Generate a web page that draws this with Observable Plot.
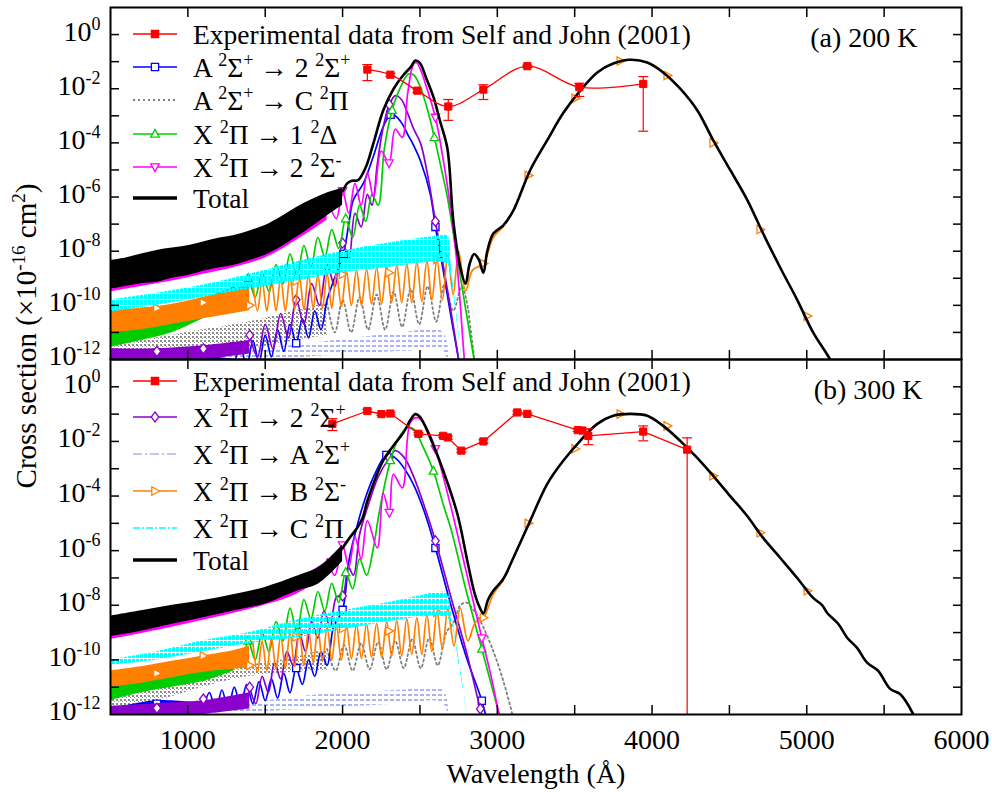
<!DOCTYPE html>
<html>
<head>
<meta charset="utf-8">
<script src="https://cdn.jsdelivr.net/npm/d3@7"></script>
<script src="https://cdn.jsdelivr.net/npm/@observablehq/plot@0.6"></script>
<style>
html,body{margin:0;padding:0;background:#fff;}
#chart{position:relative;width:992px;height:792px;overflow:hidden;background:#fff;}
#chart > svg{position:absolute;left:0;}
</style>
</head>
<body>
<div id="chart"></div>
<script>
// ---------------- axis ticks ----------------
const xTickAll = [1000, 1500, 2000, 2500, 3000, 3500, 4000, 4500, 5000, 5500];
const xLabelTicks = [1000, 2000, 3000, 4000, 5000, 6000];
const yDecades = [1e-11, 1e-10, 1e-9, 1e-8, 1e-7, 1e-6, 1e-5, 1e-4, 1e-3, 1e-2, 1e-1, 1e0];
const yLabelTicks = [1e0, 1e-2, 1e-4, 1e-6, 1e-8, 1e-10, 1e-12];

// ================= (a) 200 K =================
// Total (black): dense oscillation envelope + resolved curve
const tTotBandX  = [500, 600, 700, 800, 900, 1000, 1100, 1200, 1300, 1400, 1500, 1600, 1700, 1800, 1900, 2000];
const tTotBandHi = [4.5e-9, 5.6e-9, 7.9e-9, 1.07e-8, 1.3e-8, 1.6e-8, 2.2e-8, 3.0e-8, 3.8e-8, 5.6e-8, 8.9e-8, 1.8e-7, 4.0e-7, 7.9e-7, 1.4e-6, 2.1e-6];
const tTotBandLo = [4.0e-10, 5.0e-10, 6.3e-10, 7.1e-10, 1.0e-9, 1.26e-9, 1.8e-9, 2.4e-9, 3.0e-9, 4.5e-9, 7.1e-9, 1.4e-8, 3.2e-8, 7.9e-8, 2.0e-7, 5.0e-7];
const tTotX = [2000, 2030, 2060, 2100, 2150, 2200, 2263, 2330, 2393, 2440, 2470, 2500, 2540, 2587, 2630, 2677, 2716, 2761, 2795, 2820, 2850, 2880, 2910, 2935, 2974, 3039, 3104, 3213, 3323, 3426, 3536, 3646, 3749, 3859, 3969, 4072, 4182, 4292, 4395, 4505, 4615, 4718, 4828, 4938, 5041, 5151, 5220];
const tTotY = [1.6e-6, 3.2e-6, 4.0e-6, 4.2e-6, 1.26e-5, 1.0e-4, 1.6e-3, 1.0e-2, 3.2e-2, 6.3e-2, 0.11, 0.089, 0.025, 5.0e-3, 6.3e-4, 6.3e-5, 1.26e-7, 2.5e-9, 6.3e-10, 3.2e-9, 7.9e-9, 5.0e-9, 1.6e-9, 1.0e-8, 4.5e-8, 8.9e-8, 3.2e-7, 1.0e-5, 1.26e-4, 1.26e-3, 8.5e-3, 0.04, 0.085, 0.117, 0.093, 0.04, 0.01, 1.6e-3, 1.26e-4, 1.0e-5, 7.9e-7, 4.5e-8, 2.5e-9, 1.6e-10, 1.0e-11, 1.0e-12, 1.6e-13];

// X 2Pi -> 2 2Sigma- (magenta)
const tMagBandX  = [500, 700, 900, 1100, 1300, 1500, 1700, 1900];
const tMagBandHi = [3.5e-9, 6.3e-9, 1.05e-8, 1.8e-8, 3.0e-8, 7.1e-8, 3.2e-7, 1.1e-6];
const tMagBandLo = [3.2e-10, 5.0e-10, 7.9e-10, 1.4e-9, 2.5e-9, 5.6e-9, 2.5e-8, 1.4e-7];
const tMagX = [1900, 1960, 2000, 2040, 2080, 2120, 2160, 2200, 2250, 2300, 2340, 2386, 2420, 2457, 2476, 2500, 2540, 2600, 2650, 2700, 2740, 2780, 2800];
const tMagY = [1.0e-6, 1.6e-7, 1.7e-6, 2.5e-7, 3.2e-6, 5.0e-7, 7.9e-6, 1.0e-6, 5.0e-5, 1.8e-5, 3.2e-4, 1.6e-4, 6.3e-3, 0.079, 0.093, 0.056, 0.0126, 8.7e-4, 2.5e-5, 3.2e-7, 3.2e-9, 3.2e-12, 1.0e-13];
const tMagMX = [2000, 2300, 2600];
const tMagMY = [1.7e-6, 1.8e-5, 8.7e-4];

// A 2Sigma+ -> 2 2Sigma+ (blue)
const tBluBandX  = [500, 800, 1100, 1300];
const tBluBandHi = [5.0e-13, 7.9e-13, 1.26e-12, 1.0e-12];
const tBluBandLo = [1.0e-13, 1.6e-13, 3.2e-13, 3.2e-13];
const tBluX = [1300, 1340, 1380, 1420, 1460, 1500, 1540, 1580, 1620, 1660, 1700, 1740, 1780, 1820, 1860, 1900, 1941, 2005, 2040, 2070, 2134, 2199, 2263, 2310, 2340, 2380, 2418, 2460, 2503, 2567, 2600, 2650, 2700, 2750, 2780];
const tBluY = [6.3e-13, 3.2e-12, 5.0e-13, 5.0e-12, 7.9e-13, 7.9e-12, 1.26e-12, 1.26e-11, 2.0e-12, 2.0e-11, 4.0e-12, 3.2e-11, 6.3e-12, 6.3e-11, 1.26e-11, 1.6e-10, 7.9e-10, 7.9e-9, 1.0e-7, 7.9e-7, 3.2e-6, 3.2e-5, 4.0e-4, 1.1e-3, 1.0e-3, 5.6e-4, 2.2e-4, 7.9e-5, 2.2e-5, 1.26e-6, 7.9e-8, 2.0e-9, 4.0e-11, 1.0e-12, 1.0e-13];
const tBluMX = [1700, 2005, 2310, 2600];
const tBluMY = [4.0e-12, 7.9e-9, 1.1e-3, 7.9e-8];

// X 2Pi -> 2 2Sigma+ (purple)
const tPurBandX  = [500, 800, 1100, 1400];
const tPurBandHi = [2.5e-12, 2.5e-12, 3.2e-12, 5.0e-12];
const tPurBandLo = [6.3e-13, 7.9e-13, 1.0e-12, 1.6e-12];
const tPurX = [1400, 1450, 1500, 1550, 1600, 1650, 1700, 1750, 1800, 1850, 1900, 1950, 2000, 2040, 2080, 2120, 2160, 2190, 2224, 2260, 2302, 2341, 2380, 2420, 2460, 2503, 2550, 2600, 2650, 2700, 2750, 2780];
const tPurY = [7.9e-12, 1.26e-12, 2.0e-11, 2.5e-12, 5.0e-11, 6.3e-12, 1.6e-10, 2.0e-11, 6.3e-10, 1.0e-10, 3.2e-9, 5.0e-10, 2.0e-8, 5.0e-9, 2.5e-7, 7.9e-8, 1.26e-6, 5.0e-7, 1.6e-5, 3.2e-4, 2.6e-3, 5.6e-3, 4.0e-3, 1.26e-3, 3.2e-4, 1.0e-4, 6.3e-6, 1.26e-7, 3.2e-9, 6.3e-11, 1.0e-12, 1.0e-13];
const tPurMX = [800, 1100, 1400, 1700, 2000, 2302, 2600];
const tPurMY = [2.0e-12, 2.5e-12, 7.9e-12, 1.6e-10, 2.0e-8, 2.6e-3, 1.26e-7];

// X 2Pi -> 1 2Delta (green)
const tGreBandX  = [500, 700, 900, 1100, 1300];
const tGreBandHi = [1.0e-11, 2.0e-11, 5.0e-11, 1.6e-10, 5.0e-10];
const tGreBandLo = [2.8e-12, 5.0e-12, 1.0e-11, 3.2e-11, 1.0e-10];
const tGreX = [1300, 1345, 1390, 1435, 1480, 1525, 1570, 1615, 1660, 1705, 1750, 1795, 1840, 1885, 1930, 1975, 2020, 2065, 2110, 2150, 2190, 2230, 2270, 2320, 2373, 2425, 2460, 2500, 2550, 2593, 2640, 2677, 2720, 2780, 2850, 2880];
const tGreY = [5.0e-10, 1.0e-10, 1.0e-9, 2.0e-10, 1.6e-9, 3.2e-10, 3.2e-9, 6.3e-10, 7.9e-9, 1.26e-9, 1.6e-8, 2.5e-9, 3.2e-8, 6.3e-9, 6.3e-8, 1.26e-8, 1.6e-7, 3.2e-8, 5.0e-7, 1.26e-7, 1.26e-6, 5.0e-7, 6.3e-5, 1.6e-3, 1.1e-2, 3.5e-2, 3.2e-2, 1.26e-2, 1.6e-3, 1.6e-4, 1.0e-5, 1.0e-6, 3.2e-8, 2.5e-10, 1.0e-12, 1.0e-13];
const tGreMX = [1390, 1705, 2020, 2320, 2593];
const tGreMY = [1.0e-9, 1.26e-9, 1.6e-7, 1.6e-3, 1.6e-4];

// X 2Pi -> B 2Sigma- (orange); its long-wave hump lies under the total curve (markers only there)
const tOraBandX  = [500, 700, 900, 1100, 1300, 1400];
const tOraBandHi = [6.3e-11, 7.9e-11, 1.1e-10, 2.0e-10, 4.0e-10, 6.3e-10];
const tOraBandLo = [1.0e-11, 1.26e-11, 2.0e-11, 3.2e-11, 5.0e-11, 6.3e-11];
const tOraX = [1420, 1450, 1480, 1510, 1540, 1570, 1600, 1630, 1660, 1690, 1720, 1750, 1780, 1810, 1840, 1870, 1900, 1930, 1960, 1992, 2025, 2057, 2090, 2122, 2155, 2187, 2220, 2252, 2285, 2317, 2350, 2382, 2415, 2447, 2480, 2512, 2545, 2577, 2610, 2645, 2680, 2715, 2750, 2795, 2840, 2910, 2974, 3039];
const tOraY = [7.1e-10, 6.3e-11, 7.9e-10, 6.3e-11, 8.9e-10, 6.3e-11, 1.0e-9, 6.3e-11, 1.12e-9, 7.1e-11, 1.26e-9, 7.1e-11, 1.4e-9, 7.9e-11, 1.4e-9, 7.9e-11, 1.6e-9, 7.9e-11, 1.6e-9, 8.9e-11, 1.8e-9, 1.0e-10, 2.0e-9, 1.0e-10, 2.2e-9, 1.12e-10, 2.5e-9, 1.12e-10, 2.8e-9, 1.26e-10, 3.2e-9, 1.26e-10, 3.5e-9, 1.26e-10, 4.0e-9, 1.4e-10, 4.5e-9, 1.6e-10, 5.0e-9, 1.6e-10, 7.1e-9, 2.5e-10, 1.0e-8, 3.5e-10, 2.0e-9, 3.5e-9, 3.2e-8, 8.0e-8];
const tOraMX = [800, 1100, 1400, 1700, 2000, 2300, 2610, 2910, 3200, 3503, 3795, 4098, 4395, 4699, 5003];
const tOraMY = [7.9e-11, 1.26e-10, 1.0e-10, 7.9e-10, 1.4e-9, 1.6e-9, 5.0e-9, 3.5e-9, 6.3e-6, 4.4e-3, 0.105, 0.031, 1.0e-4, 6.3e-8, 4.0e-11];

// X 2Pi -> C 2Pi (cyan)
const tCyaX  = [500, 800, 1100, 1400, 1700, 2000, 2300, 2600, 2680, 2700, 2740, 2780];
const tCyaHi = [1.6e-10, 2.8e-10, 5.6e-10, 1.4e-9, 4.0e-9, 1.0e-8, 2.0e-8, 3.5e-8, 3.5e-8, 4.0e-9, 4.0e-11, 3.2e-13];
const tCyaLo = [5.6e-11, 1.0e-10, 2.0e-10, 4.0e-10, 7.9e-10, 1.6e-9, 2.5e-9, 4.0e-9, 3.2e-9, 1.26e-9, 2.5e-11, 3.2e-13];

// A 2Sigma+ -> C 2Pi (gray dotted)
const tGryBandX  = [500, 800, 1100, 1400, 1700, 1900];
const tGryBandHi = [3.2e-12, 6.3e-12, 1.26e-11, 2.5e-11, 6.3e-11, 1.26e-10];
const tGryBandLo = [6.3e-13, 1.0e-12, 1.6e-12, 2.5e-12, 5.0e-12, 7.9e-12];
const tGryX = [1900, 1950, 2000, 2055, 2110, 2165, 2220, 2275, 2330, 2385, 2440, 2495, 2550, 2605, 2660, 2715, 2770, 2800, 2830, 2860, 2880];
const tGryY = [1.26e-10, 1.0e-11, 1.6e-10, 1.0e-11, 2.0e-10, 1.26e-11, 2.5e-10, 1.26e-11, 3.2e-10, 1.6e-11, 4.0e-10, 2.0e-11, 5.0e-10, 2.5e-11, 6.3e-10, 6.3e-11, 5.0e-10, 1.6e-10, 1.0e-11, 5.0e-13, 1.0e-13];

// X 2Pi -> A 2Sigma+ (light blue)
const tLbX  = [600, 900, 1200, 1500, 1800, 2100, 2400, 2650, 2690];
const tLbHi = [5.0e-13, 1.0e-12, 1.6e-12, 2.5e-12, 4.0e-12, 6.3e-12, 1.0e-11, 1.0e-11, 3.2e-13];
const tLbLo = [1.0e-13, 2.5e-13, 5.0e-13, 7.9e-13, 1.26e-12, 1.6e-12, 2.0e-12, 2.0e-12, 1.6e-13];

// Experimental, Self and John (2001), 200 K
const tExpX  = [2160, 2309, 2483, 2683, 2910, 3194, 3530, 3943];
const tExpY  = [0.051, 0.033, 8.5e-3, 2.2e-3, 9.3e-3, 0.068, 0.0114, 0.015];
const tExpLo = [0.02, 0.029, 7.3e-3, 6.8e-4, 4.0e-3, 0.062, 5.2e-3, 2.7e-4];
const tExpHi = [0.078, 0.037, 9.8e-3, 4.0e-3, 0.014, 0.074, 0.016, 0.028];

// ================= (b) 300 K =================
const bTotBandX  = [500, 700, 900, 1100, 1300, 1500, 1700, 1850, 2000];
const bTotBandHi = [4.0e-9, 6.3e-9, 1.0e-8, 1.5e-8, 2.5e-8, 4.5e-8, 1.12e-7, 2.5e-7, 1.6e-6];
const bTotBandLo = [7.1e-10, 1.12e-9, 2.0e-9, 3.5e-9, 6.3e-9, 1.12e-8, 3.2e-8, 6.3e-8, 4.0e-7];
const bTotX = [2000, 2050, 2095, 2130, 2160, 2263, 2328, 2393, 2440, 2470, 2500, 2567, 2651, 2742, 2806, 2850, 2880, 2910, 2940, 2974, 3039, 3104, 3213, 3323, 3426, 3536, 3646, 3749, 3859, 3969, 4072, 4182, 4292, 4395, 4505, 4615, 4718, 4828, 4938, 5041, 5100, 5132, 5203, 5261, 5325, 5390, 5461, 5539, 5603, 5687, 5730];
const bTotY = [1.26e-6, 3.2e-6, 6.9e-6, 1.6e-5, 6.6e-5, 2.0e-3, 6.9e-3, 0.021, 0.063, 0.1, 0.079, 0.0135, 8.3e-4, 2.2e-5, 4.3e-7, 3.2e-8, 1.0e-8, 5.0e-9, 1.6e-8, 3.4e-8, 9.3e-8, 5.5e-7, 1.26e-5, 2.8e-4, 1.95e-3, 0.0105, 0.044, 0.087, 0.102, 0.087, 0.037, 0.0105, 2.5e-3, 5.5e-4, 1.0e-4, 1.86e-5, 2.95e-6, 5.5e-7, 1.0e-7, 1.86e-8, 1.0e-8, 5.2e-9, 2.1e-9, 6.5e-10, 2.75e-10, 7.9e-11, 4.0e-11, 8.7e-12, 5.6e-12, 1.05e-12, 2.5e-13];

const bMagBandX  = [500, 800, 1100, 1400, 1700, 1900];
const bMagBandHi = [3.2e-9, 6.3e-9, 1.26e-8, 2.5e-8, 8.9e-8, 4.0e-7];
const bMagBandLo = [5.6e-10, 1.2e-9, 2.8e-9, 7.1e-9, 2.5e-8, 1.2e-7];
const bMagX = [1900, 1950, 2000, 2040, 2080, 2120, 2160, 2224, 2263, 2302, 2328, 2386, 2438, 2483, 2520, 2560, 2600, 2700, 2800, 2900, 2960, 3000, 3030];
const bMagY = [5.0e-7, 1.26e-7, 1.6e-6, 2.5e-7, 3.2e-6, 5.0e-7, 1.26e-5, 1.26e-6, 1.26e-4, 2.5e-5, 6.3e-4, 2.0e-4, 0.05, 0.074, 0.05, 0.02, 5.4e-3, 4.0e-5, 1.6e-7, 6.3e-10, 2.5e-11, 2.0e-12, 3.2e-13];
const bMagMX = [2000, 2302, 2600, 2900];
const bMagMY = [1.6e-6, 2.5e-5, 5.4e-3, 6.3e-10];

const bGreBandX  = [500, 700, 900, 1100, 1300];
const bGreBandHi = [1.0e-11, 2.0e-11, 3.2e-11, 6.3e-11, 2.0e-10];
const bGreBandLo = [3.2e-12, 6.3e-12, 1.0e-11, 1.6e-11, 4.0e-11];
const bGreX = [1300, 1345, 1390, 1435, 1480, 1525, 1570, 1615, 1660, 1705, 1750, 1795, 1840, 1885, 1930, 1975, 2020, 2065, 2110, 2155, 2199, 2240, 2309, 2360, 2418, 2460, 2520, 2587, 2650, 2700, 2800, 2900, 2980, 3030];
const bGreY = [2.0e-10, 5.0e-11, 5.0e-10, 1.0e-10, 1.0e-9, 2.0e-10, 2.5e-9, 5.0e-10, 7.9e-9, 1.0e-9, 1.6e-8, 3.2e-9, 3.2e-8, 6.3e-9, 6.3e-8, 1.26e-8, 1.6e-7, 4.0e-8, 5.0e-7, 1.26e-7, 1.26e-6, 3.2e-5, 2.0e-3, 0.0126, 0.032, 0.028, 6.3e-3, 8.3e-4, 5.0e-5, 6.3e-6, 3.2e-8, 2.5e-10, 5.0e-12, 4.0e-13];
const bGreMX = [1390, 1705, 2020, 2309, 2587, 2900];
const bGreMY = [5.0e-10, 1.0e-9, 1.6e-7, 2.0e-3, 8.3e-4, 2.5e-10];

const bPurBandX  = [500, 800, 1100, 1400];
const bPurBandHi = [2.0e-12, 2.5e-12, 3.2e-12, 6.3e-12];
const bPurBandLo = [5.0e-13, 6.3e-13, 1.0e-12, 1.6e-12];
const bPurX = [1400, 1440, 1480, 1520, 1560, 1600, 1640, 1680, 1720, 1760, 1800, 1840, 1880, 1920, 1960, 2000, 2037, 2070, 2110, 2160, 2230, 2302, 2341, 2400, 2460, 2530, 2600, 2700, 2800, 2890, 2930];
const bPurY = [1.0e-11, 2.5e-12, 2.5e-11, 6.3e-12, 7.9e-11, 2.0e-11, 2.0e-10, 6.3e-11, 1.0e-9, 2.0e-10, 2.5e-9, 6.3e-10, 6.3e-9, 1.6e-9, 2.0e-8, 2.2e-8, 2.5e-7, 1.26e-7, 4.0e-6, 3.7e-5, 5.0e-4, 2.5e-3, 4.6e-3, 2.5e-3, 5.0e-4, 4.0e-5, 2.3e-6, 2.0e-8, 2.0e-10, 1.6e-12, 2.5e-13];
const bPurMX = [800, 1100, 1400, 1720, 2000, 2302, 2600, 2890];
const bPurMY = [1.7e-12, 3.7e-12, 1.0e-11, 1.0e-9, 2.2e-8, 2.5e-3, 2.3e-6, 1.6e-12];

const bBluBandX  = [500, 800, 1100];
const bBluBandHi = [1.6e-12, 3.2e-12, 2.5e-12];
const bBluBandLo = [5.0e-13, 7.9e-13, 1.0e-12];
const bBluX = [1100, 1140, 1180, 1220, 1260, 1300, 1340, 1380, 1420, 1460, 1500, 1540, 1580, 1620, 1660, 1700, 1740, 1780, 1820, 1860, 1900, 1941, 2000, 2040, 2080, 2134, 2200, 2283, 2340, 2400, 2460, 2530, 2600, 2700, 2800, 2900, 2940];
const bBluY = [1.6e-12, 6.3e-12, 1.26e-12, 7.9e-12, 1.6e-12, 1.0e-11, 2.0e-12, 1.26e-11, 2.5e-12, 1.6e-11, 3.2e-12, 2.0e-11, 4.0e-12, 3.2e-11, 6.3e-12, 5.0e-11, 1.26e-11, 1.0e-10, 2.5e-11, 2.0e-10, 6.3e-11, 1.6e-9, 6.8e-9, 4.0e-7, 4.0e-6, 5.0e-5, 5.0e-4, 3.2e-3, 2.5e-3, 1.0e-3, 2.5e-4, 2.5e-5, 1.26e-6, 1.0e-8, 1.26e-10, 3.2e-12, 4.0e-13];
const bBluMX = [800, 1700, 2000, 2283, 2600, 2900];
const bBluMY = [2.5e-12, 5.0e-11, 6.8e-9, 3.2e-3, 1.26e-6, 3.2e-12];

const bOraBandX  = [500, 700, 900, 1100, 1300, 1400];
const bOraBandHi = [4.0e-11, 5.6e-11, 8.9e-11, 1.4e-10, 2.2e-10, 3.2e-10];
const bOraBandLo = [1.0e-11, 1.4e-11, 2.2e-11, 3.5e-11, 4.5e-11, 5.0e-11];
const bOraX = [1420, 1450, 1480, 1510, 1540, 1570, 1600, 1630, 1660, 1690, 1720, 1750, 1780, 1810, 1840, 1870, 1900, 1930, 1960, 1992, 2025, 2057, 2090, 2122, 2155, 2187, 2220, 2252, 2285, 2317, 2350, 2382, 2415, 2447, 2480, 2512, 2545, 2577, 2610, 2645, 2680, 2720, 2760, 2810, 2860, 2910, 2974, 3039];
const bOraY = [4.5e-10, 3.5e-11, 5.0e-10, 4.0e-11, 6.3e-10, 4.5e-11, 7.9e-10, 5.0e-11, 1.0e-9, 5.6e-11, 1.12e-9, 6.3e-11, 1.26e-9, 7.9e-11, 1.4e-9, 8.9e-11, 1.6e-9, 1.0e-10, 1.8e-9, 1.0e-10, 1.8e-9, 1.12e-10, 2.0e-9, 1.12e-10, 2.0e-9, 1.26e-10, 2.2e-9, 1.26e-10, 2.5e-9, 1.4e-10, 2.8e-9, 1.4e-10, 3.2e-9, 1.6e-10, 3.5e-9, 1.6e-10, 4.5e-9, 2.0e-10, 5.6e-9, 2.5e-10, 7.1e-9, 3.2e-10, 7.9e-9, 5.0e-10, 2.5e-9, 3.5e-9, 2.5e-8, 7.9e-8];
const bOraMX = [800, 1100, 1400, 1700, 2000, 2300, 2610, 2910, 3200, 3503, 3795, 4098, 4395, 4699, 5003];
const bOraMY = [3.2e-11, 1.4e-10, 6.3e-11, 6.9e-10, 1.4e-9, 1.15e-9, 5.6e-9, 3.5e-9, 1.0e-5, 5.4e-3, 0.1, 0.037, 5.5e-4, 4.5e-6, 3.4e-8];

const bCyaX  = [500, 800, 1100, 1400, 1700, 2000, 2300, 2600, 2677, 2700, 2760, 2815];
const bCyaHi = [1.0e-10, 2.0e-10, 5.0e-10, 1.0e-9, 2.8e-9, 6.3e-9, 1.26e-8, 2.8e-8, 2.8e-8, 6.3e-9, 6.3e-11, 4.0e-13];
const bCyaLo = [6.3e-11, 1.0e-10, 2.0e-10, 4.0e-10, 6.3e-10, 1.26e-9, 2.5e-9, 4.0e-9, 3.2e-9, 2.5e-9, 4.0e-11, 4.0e-13];

const bGryBandX  = [500, 800, 1100, 1400, 1700, 1900];
const bGryBandHi = [5.6e-12, 1.26e-11, 3.2e-11, 6.3e-11, 1.26e-10, 2.5e-10];
const bGryBandLo = [1.6e-12, 3.2e-12, 1.0e-11, 2.5e-11, 3.5e-11, 4.0e-11];
const bGryX = [1900, 1955, 2010, 2065, 2120, 2175, 2230, 2285, 2340, 2395, 2450, 2505, 2560, 2615, 2670, 2720, 2761, 2800, 2850, 2890, 2974, 3040, 3097, 3120];
const bGryY = [2.5e-10, 4.0e-11, 3.5e-10, 4.0e-11, 4.0e-10, 4.5e-11, 4.5e-10, 4.5e-11, 5.0e-10, 5.0e-11, 5.6e-10, 5.0e-11, 6.3e-10, 6.3e-11, 1.0e-9, 2.5e-9, 1.0e-8, 1.26e-8, 6.3e-9, 2.7e-9, 2.1e-10, 1.6e-11, 1.0e-12, 2.5e-13];

const bLbX  = [600, 900, 1200, 1500, 1800, 2100, 2400, 2650, 2690];
const bLbHi = [6.3e-13, 1.26e-12, 2.0e-12, 3.2e-12, 5.0e-12, 6.3e-12, 7.9e-12, 7.9e-12, 3.2e-13];
const bLbLo = [1.6e-13, 4.0e-13, 7.9e-13, 1.26e-12, 1.6e-12, 2.0e-12, 2.5e-12, 2.5e-12, 1.6e-13];

const bExpX  = [1934, 2160, 2251, 2309, 2490, 2650, 2680, 2767, 2910, 3129, 3194, 3520, 3550, 3588, 3943, 4227];
const bExpY  = [0.044, 0.13, 0.1, 0.105, 0.019, 0.016, 0.014, 4.6e-3, 0.01, 0.115, 0.102, 0.026, 0.025, 0.016, 0.023, 5.0e-3];
const bExpLo = [0.025, 0.115, 0.09, 0.095, 0.017, 0.014, 0.012, 4.0e-3, 8.7e-3, 0.1, 0.095, 0.023, 0.022, 7.6e-3, 0.0105, 1e-14];
const bExpHi = [0.068, 0.15, 0.11, 0.115, 0.021, 0.018, 0.016, 5.2e-3, 0.0115, 0.13, 0.11, 0.029, 0.028, 0.029, 0.037, 0.0135];

// legend labels (^x or ^{..} = superscript)
const tLegendLabels = ["Experimental data from Self and John (2001)", "A ^2Σ^+ → 2 ^2Σ^+", "A ^2Σ^+ → C ^2Π", "X ^2Π → 1 ^2Δ", "X ^2Π → 2 ^2Σ^-", "Total"];
const bLegendLabels = ["Experimental data from Self and John (2001)", "X ^2Π → 2 ^2Σ^+", "X ^2Π → A ^2Σ^+", "X ^2Π → B ^2Σ^-", "X ^2Π → C ^2Π", "Total"];

// ---------------- helpers ----------------
const toPts = (xs, ys) => xs.map((x, i) => ({x, y: ys[i]}));
const toBand = (xs, lo, hi) => xs.map((x, i) => ({x, lo: lo[i], hi: hi[i]}));
const toErr = (xs, ys, lo, hi) => xs.map((x, i) => ({x, y: ys[i], lo: lo[i], hi: hi[i]}));

const mk = f => ({draw(ctx, size) { f(ctx, Math.sqrt(size / Math.PI)); }});
const symSquare = mk((c, r) => { const s = r * 0.9; c.moveTo(-s, -s); c.lineTo(s, -s); c.lineTo(s, s); c.lineTo(-s, s); c.closePath(); });
const symDiamond = mk((c, r) => { c.moveTo(0, -r * 1.25); c.lineTo(r * 0.95, 0); c.lineTo(0, r * 1.25); c.lineTo(-r * 0.95, 0); c.closePath(); });
const symTriUp = mk((c, r) => { c.moveTo(0, -r * 1.15); c.lineTo(r * 1.05, r * 0.8); c.lineTo(-r * 1.05, r * 0.8); c.closePath(); });
const symTriDown = mk((c, r) => { c.moveTo(0, r * 1.15); c.lineTo(r * 1.05, -r * 0.8); c.lineTo(-r * 1.05, -r * 0.8); c.closePath(); });
const symTriRight = mk((c, r) => { c.moveTo(r * 1.15, 0); c.lineTo(-r * 0.8, -r * 1.05); c.lineTo(-r * 0.8, r * 1.05); c.closePath(); });
const symCap = mk((c, r) => { c.moveTo(-r, 0); c.lineTo(r, 0); });

const STY = {
  exp:  {color: "#ff0000", sym: symSquare, fill: "#ff0000", width: 1.3},
  a2s:  {color: "#0000ff", sym: symSquare, fill: "#ffffff", width: 1.7},
  ac:   {color: "#808080", dash: "2,3", width: 1.8, bandFill: "url(#patGray)"},
  x1d:  {color: "#00cc00", sym: symTriUp, fill: "#ffffff", width: 1.7},
  x2sm: {color: "#ff00ff", sym: symTriDown, fill: "#ffffff", width: 1.7},
  x2sp: {color: "#8c00cc", sym: symDiamond, fill: "#ffffff", width: 1.7},
  xa:   {color: "#aab4f5", dash: "9,3,2,3", width: 1.7, bandFill: "url(#patLb)"},
  xb:   {color: "#ff8000", sym: symTriRight, fill: "#ffffff", width: 1.7},
  xc:   {color: "#00ffff", dash: "7,2,2,2", width: 1.7, bandFill: "url(#patCyan)"},
  tot:  {color: "#000000", width: 2.6}
};
const FONT = "'Liberation Serif', 'Times New Roman', serif";
const FS = 28, SUP = 18, SHIFT = 11;

function richText(sel, str, supSize, supShift) {
  const parts = [];
  let i = 0, buf = "";
  while (i < str.length) {
    if (str[i] === "^") {
      if (buf) { parts.push({t: buf, sup: false}); buf = ""; }
      if (str[i + 1] === "{") { const j = str.indexOf("}", i); parts.push({t: str.slice(i + 2, j), sup: true}); i = j + 1; }
      else { parts.push({t: str[i + 1], sup: true}); i += 2; }
    } else { buf += str[i]; i++; }
  }
  if (buf) parts.push({t: buf, sup: false});
  let cur = 0;
  for (const p of parts) {
    const ts = sel.append("tspan").text(p.t);
    if (p.sup) { ts.attr("font-size", supSize).attr("dy", -supShift - cur); cur = -supShift; }
    else if (cur !== 0) { ts.attr("dy", -cur); cur = 0; }
  }
}

function addSeries(marks, s, st) {
  if (s.band) marks.push(Plot.areaY(s.band, {x: "x", y1: "lo", y2: "hi", fill: st.bandFill || st.color, curve: "catmull-rom", clip: true}));
  if (s.line) marks.push(Plot.line(s.line, {x: "x", y: "y", stroke: st.color, strokeWidth: st.width, strokeDasharray: st.dash, curve: "catmull-rom", clip: true}));
  if (s.marks && st.sym) marks.push(Plot.dot(s.marks, {x: "x", y: "y", symbol: st.sym, r: 4, stroke: st.color, fill: st.fill, strokeWidth: 1.3, clip: true}));
}

const drawOrder = ["xa", "ac", "a2s", "x2sp", "x1d", "xb", "xc", "x2sm", "tot"];

function makePanel(cfg) {
  const marks = [];
  for (const k of drawOrder) if (cfg.series[k]) addSeries(marks, cfg.series[k], STY[k]);
  const red = STY.exp.color;
  marks.push(Plot.line(cfg.exp, {x: "x", y: "y", stroke: red, strokeWidth: 1.3, curve: cfg.expCurve, clip: true}));
  marks.push(Plot.ruleX(cfg.exp, {x: "x", y1: "lo", y2: "hi", stroke: red, strokeWidth: 1.2, clip: true}));
  marks.push(Plot.dot(cfg.exp, {x: "x", y: "lo", symbol: symCap, r: 5, stroke: red, fill: "none", strokeWidth: 1.2, clip: true}));
  marks.push(Plot.dot(cfg.exp, {x: "x", y: "hi", symbol: symCap, r: 5, stroke: red, fill: "none", strokeWidth: 1.2, clip: true}));
  marks.push(Plot.dot(cfg.exp, {x: "x", y: "y", symbol: symSquare, r: 4, fill: red, stroke: red, strokeWidth: 1}));
  marks.push(Plot.frame({stroke: "#000", strokeWidth: 2}));
  marks.push(Plot.axisY(yDecades, {anchor: "left", tickSize: -9, tickFormat: () => "", strokeWidth: 1.5, label: null}));
  marks.push(Plot.axisY(yDecades, {anchor: "right", tickSize: -9, tickFormat: () => "", strokeWidth: 1.5, label: null}));
  marks.push(Plot.axisX(xTickAll, {anchor: "top", tickSize: -9, tickFormat: () => "", strokeWidth: 1.5, label: null}));
  marks.push(Plot.axisX(xTickAll, {anchor: "bottom", tickSize: -9, tickFormat: () => "", strokeWidth: 1.5, label: null}));
  marks.push(Plot.axisY(yLabelTicks, {anchor: "left", tickSize: 0, tickPadding: 10, tickFormat: d => "10^" + Math.round(Math.log10(d)), label: null, dy: -3}));
  if (cfg.xLabels) marks.push(Plot.axisX(xLabelTicks, {anchor: "bottom", tickSize: 0, tickPadding: 15, tickFormat: d => String(d), label: null}));
  marks.push(Plot.text([cfg.tag], {frameAnchor: "top-right", dx: cfg.tagDx, dy: 31, textAnchor: "end", lineAnchor: "middle", fontSize: FS}));
  const svg = Plot.plot({
    width: 992, height: cfg.height,
    marginTop: cfg.mt, marginBottom: cfg.mb, marginLeft: 110, marginRight: 31,
    x: {type: "linear", domain: [500, 6000], label: null},
    y: {type: "log", domain: [1e-12, 10], label: null},
    style: {fontFamily: FONT, fontSize: FS + "px", background: "transparent", overflow: "visible", color: "#000"},
    marks
  });
  d3.select(svg).selectAll("text").each(function () {
    const m = /^10\^(-?\d+)$/.exec(this.textContent);
    if (m) { const s = d3.select(this); s.text(""); richText(s, "10^{" + m[1] + "}", SUP, SHIFT); }
  });
  const g = d3.select(svg).append("g").attr("font-family", FONT).attr("font-size", 27.5).attr("fill", "#000").attr("text-anchor", "start");
  cfg.legendKeys.forEach((k, i) => {
    const st = STY[k], y = cfg.legendRows[i];
    g.append("line").attr("x1", 133).attr("x2", 177).attr("y1", y).attr("y2", y)
      .attr("stroke", st.color).attr("stroke-width", k === "tot" ? 3.5 : st.width)
      .attr("stroke-dasharray", st.dash || null);
    if (st.sym) g.append("path").attr("d", d3.symbol(st.sym, Math.PI * 16)()).attr("transform", `translate(155,${y})`)
      .attr("fill", st.fill).attr("stroke", st.color).attr("stroke-width", 1.3);
    const t = g.append("text").attr("x", 193).attr("y", y + 10).attr("text-anchor", "start");
    richText(t, cfg.legendLabels[i], SUP, SHIFT);
  });
  return svg;
}

const chart = document.getElementById("chart");
// fill patterns mimicking dense dashed / dotted oscillations
const defsSvg = d3.select(chart).append("svg").attr("width", 0).attr("height", 0).style("top", "0px");
const defs = defsSvg.append("defs");
function pattern(id, w, h, color, rects) {
  const p = defs.append("pattern").attr("id", id).attr("patternUnits", "userSpaceOnUse").attr("width", w).attr("height", h);
  rects.forEach(r => p.append("rect").attr("x", r[0]).attr("y", r[1]).attr("width", r[2]).attr("height", r[3]).attr("fill", color));
}
pattern("patCyan", 4, 6, "#00ffff", [[0, 0, 3, 5]]);
pattern("patGray", 4, 4, "#8c8c8c", [[0, 0, 2, 2], [2, 2, 1, 1]]);
pattern("patLb", 6, 5, "#aab4f5", [[0, 0, 4, 2]]);

const topCfg = {
  height: 360, mt: 7, mb: 1, xLabels: false, tag: "(a) 200 K", tagDx: -44,
  series: {
    tot: {band: toBand(tTotBandX, tTotBandLo, tTotBandHi), line: toPts(tTotX, tTotY)},
    x2sm: {band: toBand(tMagBandX, tMagBandLo, tMagBandHi), line: toPts(tMagX, tMagY), marks: toPts(tMagMX, tMagMY)},
    a2s: {band: toBand(tBluBandX, tBluBandLo, tBluBandHi), line: toPts(tBluX, tBluY), marks: toPts(tBluMX, tBluMY)},
    x2sp: {band: toBand(tPurBandX, tPurBandLo, tPurBandHi), line: toPts(tPurX, tPurY), marks: toPts(tPurMX, tPurMY)},
    x1d: {band: toBand(tGreBandX, tGreBandLo, tGreBandHi), line: toPts(tGreX, tGreY), marks: toPts(tGreMX, tGreMY)},
    xb: {band: toBand(tOraBandX, tOraBandLo, tOraBandHi), line: toPts(tOraX, tOraY), marks: toPts(tOraMX, tOraMY)},
    xc: {band: toBand(tCyaX, tCyaLo, tCyaHi)},
    ac: {band: toBand(tGryBandX, tGryBandLo, tGryBandHi), line: toPts(tGryX, tGryY)},
    xa: {band: toBand(tLbX, tLbLo, tLbHi)}
  },
  exp: toErr(tExpX, tExpY, tExpLo, tExpHi), expCurve: "catmull-rom",
  legendKeys: ["exp", "a2s", "ac", "x1d", "x2sm", "tot"], legendLabels: tLegendLabels,
  legendRows: [34, 67, 100, 134, 167, 198]
};
const botCfg = {
  height: 433, mt: 0, mb: 78, xLabels: true, tag: "(b) 300 K", tagDx: -39,
  series: {
    tot: {band: toBand(bTotBandX, bTotBandLo, bTotBandHi), line: toPts(bTotX, bTotY)},
    x2sm: {band: toBand(bMagBandX, bMagBandLo, bMagBandHi), line: toPts(bMagX, bMagY), marks: toPts(bMagMX, bMagMY)},
    a2s: {band: toBand(bBluBandX, bBluBandLo, bBluBandHi), line: toPts(bBluX, bBluY), marks: toPts(bBluMX, bBluMY)},
    x2sp: {band: toBand(bPurBandX, bPurBandLo, bPurBandHi), line: toPts(bPurX, bPurY), marks: toPts(bPurMX, bPurMY)},
    x1d: {band: toBand(bGreBandX, bGreBandLo, bGreBandHi), line: toPts(bGreX, bGreY), marks: toPts(bGreMX, bGreMY)},
    xb: {band: toBand(bOraBandX, bOraBandLo, bOraBandHi), line: toPts(bOraX, bOraY), marks: toPts(bOraMX, bOraMY)},
    xc: {band: toBand(bCyaX, bCyaLo, bCyaHi)},
    ac: {band: toBand(bGryBandX, bGryBandLo, bGryBandHi), line: toPts(bGryX, bGryY)},
    xa: {band: toBand(bLbX, bLbLo, bLbHi)}
  },
  exp: toErr(bExpX, bExpY, bExpLo, bExpHi), expCurve: "linear",
  legendKeys: ["exp", "x2sp", "xa", "xb", "xc", "tot"], legendLabels: bLegendLabels,
  legendRows: [22, 58, 95, 132, 169, 201]
};

const topSvg = makePanel(topCfg);
topSvg.style.top = "0px";
chart.appendChild(topSvg);
const botSvg = makePanel(botCfg);
botSvg.style.top = "359px";
chart.appendChild(botSvg);

// axis titles
const ov = d3.select(chart).append("svg").attr("width", 992).attr("height", 792)
  .style("top", "0px").style("pointer-events", "none")
  .attr("font-family", FONT).attr("font-size", FS).attr("fill", "#000");
ov.append("text").attr("x", 536).attr("y", 783).attr("text-anchor", "middle").text("Wavelength (Å)");
const yt = ov.append("text").attr("transform", "translate(36,336) rotate(-90)").attr("text-anchor", "middle").attr("font-size", 29);
richText(yt, "Cross section (×10^{-16} cm^2)", 19, 11);
</script>
</body>
</html>
